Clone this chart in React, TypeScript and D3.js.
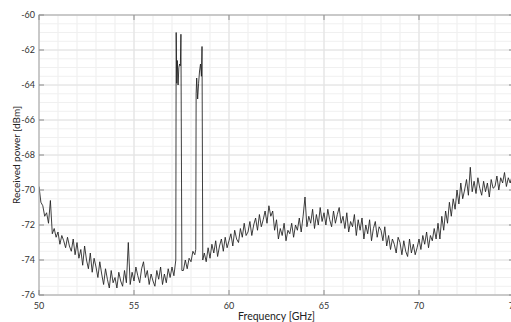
import React from "react";
import * as d3 from "d3";

const FREQ_START = 50.0;
const FREQ_STEP = 0.1;

// Baseline trace, one value per 0.1 GHz from 50.0 GHz
const baseline: number[] = [
  // 50
  -69.8, -70.7, -70.9, -71.5, -71.3, -71.9, -70.6, -72.5, -72.2, -72.7,
  // 51
  -72.4, -73.1, -72.6, -72.9, -73.3, -72.7, -73.2, -73.5, -72.8, -73.7,
  // 52
  -73.0, -73.9, -73.4, -74.3, -73.2, -74.0, -74.5, -73.6, -74.7, -73.9,
  // 53
  -74.4, -75.0, -74.1, -74.8, -75.4, -74.5, -75.1, -75.6, -74.6, -75.3,
  // 54
  -75.0, -75.6, -74.7, -75.2, -75.5, -74.6, -75.3, -73.0, -75.4, -74.7,
  // 55
  -75.2, -74.4, -74.9, -75.3, -74.5, -74.1, -75.0, -74.6, -75.4, -74.8,
  // 56
  -75.2, -75.5, -74.6, -75.1, -74.4, -75.4, -74.8, -75.3, -74.5, -75.0,
  // 57
  -74.4, -74.9, -74.0, -74.3, -74.3, -74.3, -74.6, -74.0, -74.5, -73.9,
  // 58
  -74.1, -73.5, -73.7, -73.6, -73.6, -73.6, -73.6, -73.6, -74.1, -73.3,
  // 59
  -73.9, -73.1, -73.6, -72.9, -73.8, -73.2, -72.8, -73.5, -72.7, -73.3,
  // 60
  -72.9, -72.5, -73.2, -72.3, -72.8, -73.0, -72.2, -72.7, -71.9, -72.6,
  // 61
  -72.4, -71.8, -72.6, -72.0, -71.6, -72.3, -71.4, -72.1, -71.7, -71.2,
  // 62
  -71.9, -70.9, -71.5, -71.2, -72.3, -71.7, -72.8, -72.2, -72.6, -71.9,
  // 63
  -72.9, -72.3, -72.5, -71.9, -72.7, -72.0, -72.3, -71.6, -72.4, -71.5,
  // 64
  -70.4, -72.1, -71.5, -71.9, -71.1, -72.2, -71.4, -72.0, -71.0, -71.8,
  // 65
  -71.3, -72.0, -71.1, -71.7, -72.1, -71.2, -71.9, -71.4, -71.0, -71.9,
  // 66
  -71.5, -72.2, -71.3, -72.4, -71.8, -72.1, -71.4, -72.6, -71.7, -72.3,
  // 67
  -71.6, -72.8, -72.0, -72.5, -71.7, -72.9, -72.2, -71.8, -72.7, -72.1,
  // 68
  -72.3, -72.9, -72.1, -73.2, -72.6, -73.4, -72.8, -73.1, -73.6, -72.7,
  // 69
  -73.0, -73.7, -72.9, -73.5, -73.8, -72.8, -73.6, -73.1, -73.7, -73.3,
  // 70
  -72.8, -73.4, -72.6, -73.1, -72.4, -73.3, -72.6, -72.9, -72.2, -72.8,
  // 71
  -71.9, -72.8, -71.5, -72.3, -71.2, -71.9, -70.7, -71.5, -70.5, -71.1,
  // 72
  -70.0, -70.8, -69.6, -70.5, -70.0, -69.4, -70.3, -68.7, -70.1, -69.5,
  // 73
  -70.2, -69.3, -69.9, -70.3, -69.5, -70.1, -69.6, -70.4, -69.4, -69.9,
  // 74
  -69.8, -69.2, -70.0, -69.3, -69.6, -69.0, -69.8, -69.3, -69.6, -69.2,
];

// Narrow carrier peaks (frequency, power)
const peak1Freq = [57.2, 57.22, 57.25, 57.28, 57.32, 57.36, 57.4, 57.44, 57.47, 57.52];
const peak1Power = [-74.0, -61.0, -63.9, -62.6, -64.0, -63.0, -62.8, -62.9, -61.1, -74.6];
const peak2Freq = [58.25, 58.27, 58.3, 58.35, 58.4, 58.45, 58.5, 58.55, 58.58, 58.62];
const peak2Power = [-73.4, -64.5, -63.6, -64.8, -63.9, -63.2, -62.8, -63.5, -61.8, -74.0];

const xTicks = [50, 55, 60, 65, 70, 75];
const yTicks = [-76, -74, -72, -70, -68, -66, -64, -62, -60];

const W = 511;
const H = 322;
const L = 39, R = 514, T = 15, B = 295;

export default function App() {
  const x = d3.scaleLinear().domain([50, 75]).range([L, R]);
  const y = d3.scaleLinear().domain([-76, -60]).range([B, T]);

  const base: [number, number][] = baseline.map((v, i) => [
    +(FREQ_START + i * FREQ_STEP).toFixed(2),
    v,
  ]);
  const p1: [number, number][] = peak1Freq.map((f, i) => [f, peak1Power[i]]);
  const p2: [number, number][] = peak2Freq.map((f, i) => [f, peak2Power[i]]);
  const inRange = (f: number, arr: number[]) =>
    f >= arr[0] - 1e-9 && f <= arr[arr.length - 1] + 1e-9;
  const pts = base
    .filter(([f]) => !inRange(f, peak1Freq) && !inRange(f, peak2Freq))
    .concat(p1, p2)
    .sort((a, b) => a[0] - b[0]);

  const line = d3
    .line<[number, number]>()
    .x((d) => x(d[0]))
    .y((d) => y(d[1]));

  const minorX = d3.range(50, 75.001, 1);
  const minorY = d3.range(-76, -59.999, 0.5);

  const font = "Lato, 'Open Sans', sans-serif";

  return (
    <svg
      width={W}
      height={H}
      style={{ position: "absolute", left: 0, top: 0, background: "#fff" }}
    >
      <defs>
        <clipPath id="plot">
          <rect x={L} y={T} width={R - L} height={B - T} />
        </clipPath>
      </defs>
      <rect x={0} y={0} width={W} height={H} fill="#fff" />
      {/* minor grid */}
      {minorX.map((f) => (
        <line key={"mx" + f} x1={x(f)} x2={x(f)} y1={T} y2={B} stroke="#ededed" strokeWidth={1} />
      ))}
      {minorY.map((v) => (
        <line key={"my" + v} x1={L} x2={R} y1={y(v)} y2={y(v)} stroke="#f0f0f0" strokeWidth={1} />
      ))}
      {/* major grid */}
      {xTicks.map((f) => (
        <line key={"gx" + f} x1={x(f)} x2={x(f)} y1={T} y2={B} stroke="#e2e2e2" strokeWidth={1} />
      ))}
      {yTicks.map((v) => (
        <line key={"gy" + v} x1={L} x2={R} y1={y(v)} y2={y(v)} stroke="#e2e2e2" strokeWidth={1} />
      ))}
      {/* trace */}
      <path
        d={line(pts) || ""}
        fill="none"
        stroke="#1e1e1e"
        strokeWidth={0.85}
        strokeLinejoin="round"
        clipPath="url(#plot)"
      />
      {/* axes box */}
      <rect x={L} y={T} width={R - L} height={B - T} fill="none" stroke="#a6a6a6" strokeWidth={1} />
      {/* ticks */}
      {xTicks.map((f) => (
        <g key={"tx" + f}>
          <line x1={x(f)} x2={x(f)} y1={B} y2={B - 5} stroke="#8c8c8c" />
          <line x1={x(f)} x2={x(f)} y1={T} y2={T + 5} stroke="#8c8c8c" />
          <text
            x={x(f)}
            y={B + 14}
            textAnchor="middle"
            fontFamily={font}
            fontSize={9}
            fill="#333"
          >
            {f}
          </text>
        </g>
      ))}
      {yTicks.map((v) => (
        <g key={"ty" + v}>
          <line x1={L} x2={L + 5} y1={y(v)} y2={y(v)} stroke="#8c8c8c" />
          <line x1={R} x2={R - 5} y1={y(v)} y2={y(v)} stroke="#8c8c8c" />
          <text
            x={L - 4}
            y={y(v) + 3.2}
            textAnchor="end"
            fontFamily={font}
            fontSize={9}
            fill="#333"
          >
            {v}
          </text>
        </g>
      ))}
      <text
        x={(L + R) / 2}
        y={320}
        textAnchor="middle"
        fontFamily={font}
        fontSize={10.5}
        fill="#222"
      >
        Frequency [GHz]
      </text>
      <text
        transform={`translate(20, ${(T + B) / 2}) rotate(-90)`}
        textAnchor="middle"
        fontFamily={font}
        fontSize={10}
        fill="#222"
      >
        Received power [dBm]
      </text>
    </svg>
  );
}
